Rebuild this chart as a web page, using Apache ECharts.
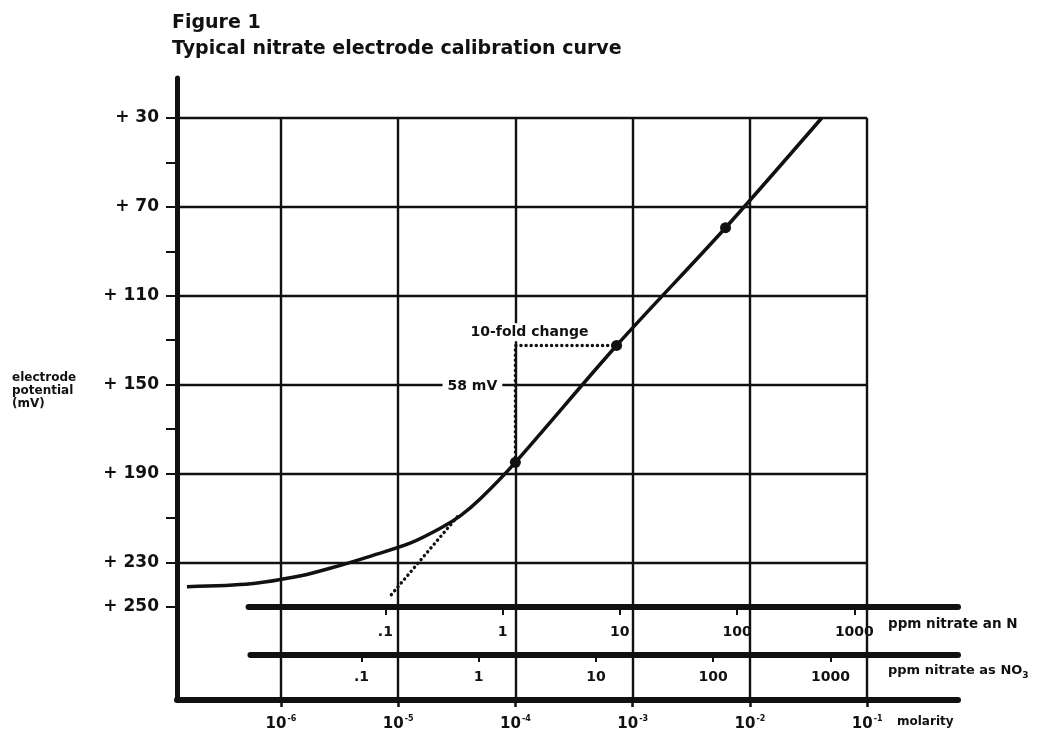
<!DOCTYPE html>
<html><head><meta charset="utf-8">
<script src="https://cdn.jsdelivr.net/npm/echarts@6/dist/echarts.min.js"></script>
<style>html,body{margin:0;padding:0;background:#fff}#chart{width:1055px;height:737px}</style>
</head><body><div id="chart"></div>
<script>
// ---- data ----
const CURVE_MOLARITY = [1.58e-7, 5.55e-7, 1.48e-6, 2.67e-6, 5.84e-6, 1.28e-5, 2.31e-5, 3.41e-5, 5.05e-5, 1e-4, 7.3e-4, 6.2e-3, 4.1e-2];
const CURVE_MV       = [241,     239.7,   236.1,   232.6,   227.2,   221.3,   214.6,   209,     201.3,   185,  132.4,  79.4,   30];
const DOT_MOLARITY = [1e-4, 7.3e-4, 6.2e-3];
const DOT_MV       = [185, 132.4, 79.4];
const STEP_MOLARITY = [1e-4, 1e-4, 7.3e-4];
const STEP_MV       = [185, 132.4, 132.4];
const EXTRAP_MOLARITY = [3.2e-5, 8.3e-6];
const EXTRAP_MV       = [209.5, 246];
const MV_LABELS = [30, 70, 110, 150, 190, 230, 250];
const MV_TICKS  = [30, 50, 70, 90, 110, 130, 150, 170, 190, 210, 230, 250];
const MV_GRID   = [30, 70, 110, 150, 190, 230];
const MOLARITY_TICKS = [1e-6, 1e-5, 1e-4, 1e-3, 1e-2, 1e-1];
const MOLARITY_EXP   = ['-6', '-5', '-4', '-3', '-2', '-1'];
const PPM_N_TICKS  = [0.1, 1, 10, 100, 1000];
const PPM_N_LABELS = ['.1', '1', '10', '100', '1000'];
const PPM_NO3_TICKS  = [0.1, 1, 10, 100, 1000];
const PPM_NO3_LABELS = ['.1', '1', '10', '100', '1000'];
const ANNOT_TEXT     = ['10-fold change', '58 mV'];
const ANNOT_MOLARITY = [1.32e-4, 4.3e-5];
const ANNOT_MV       = [126.5, 150.8];

// ---- scale constants (as drawn in the figure) ----
const MOL_MIN = Math.pow(10, -6.886);
const MOL_MAX = Math.pow(10, -0.225);
const MV_MIN = 12, MV_MAX = 292;
const PPM_N_PER_MOLAR = 12850;
const PPM_NO3_PER_MOLAR = 20560;
const N_LINE = {mv: 250, from: 5.3e-7};
const NO3_LINE = {mv: 271.6, from: 5.5e-7};

const FONT = '"DejaVu Sans", sans-serif';
const INK = '#111';

const zip = (a, b) => a.map((v, i) => [v, b[i]]);

const gridLines = [];
MV_GRID.forEach(v => gridLines.push([{coord: [MOL_MIN, v]}, {coord: [1e-1, v]}]));
MOLARITY_TICKS.forEach(m => gridLines.push([{coord: [m, 30]}, {coord: [m, MV_MAX]}]));

const scaleLines = [
  [{coord: [N_LINE.from, N_LINE.mv]}, {coord: [MOL_MAX, N_LINE.mv]}],
  [{coord: [NO3_LINE.from, NO3_LINE.mv]}, {coord: [MOL_MAX, NO3_LINE.mv]}]
];

function lookup(ticks, labels) {
  return v => {
    const i = ticks.findIndex(t => Math.abs(Math.log10(t) - Math.log10(v)) < 0.01);
    return i >= 0 ? labels[i] : '';
  };
}

const chart = echarts.init(document.getElementById('chart'), null, {renderer: 'canvas'});
chart.setOption({
  animation: false,
  backgroundColor: '#fff',
  title: [
    {text: 'Figure 1', left: 167, top: 9, textStyle: {fontFamily: FONT, fontWeight: 'bold', fontSize: 19, color: INK}},
    {text: 'Typical nitrate electrode calibration curve', left: 167, top: 35, textStyle: {fontFamily: FONT, fontWeight: 'bold', fontSize: 19, color: INK}},
    {text: 'electrode\npotential\n(mV)', left: 7, top: 366, textStyle: {fontFamily: FONT, fontWeight: 'bold', fontSize: 12, lineHeight: 13, color: INK}},
    {text: 'ppm nitrate an N', left: 883, top: 612, textStyle: {fontFamily: FONT, fontWeight: 'bold', fontSize: 13.5, color: INK}},
    {text: 'ppm nitrate as NO{sub|3}', left: 883, top: 657, textStyle: {fontFamily: FONT, fontWeight: 'bold', fontSize: 13, lineHeight: 18, color: INK,
      rich: {sub: {fontFamily: FONT, fontWeight: 'bold', fontSize: 9, verticalAlign: 'bottom', lineHeight: 18, color: INK}}}},
    {text: 'molarity', left: 892, top: 711, textStyle: {fontFamily: FONT, fontWeight: 'bold', fontSize: 12, color: INK}}
  ],
  grid: {left: 177, right: 97, top: 78, bottom: 37, containLabel: false, outerBoundsMode: 'none'},
  xAxis: [
    {
      type: 'log', logBase: 10, min: MOL_MIN, max: MOL_MAX, position: 'bottom',
      axisLine: {show: true, lineStyle: {color: INK, width: 6, cap: 'round'}},
      axisTick: {show: true, customValues: MOLARITY_TICKS, length: 7, lineStyle: {color: INK, width: 2.5}},
      axisLabel: {
        customValues: MOLARITY_TICKS, margin: 15, color: INK,
        formatter: v => '{b|10}{s|' + lookup(MOLARITY_TICKS, MOLARITY_EXP)(v) + '}',
        rich: {
          b: {fontFamily: FONT, fontWeight: 'bold', fontSize: 15, lineHeight: 18, color: INK},
          s: {fontFamily: FONT, fontWeight: 'bold', fontSize: 8, verticalAlign: 'top', lineHeight: 18, color: INK, padding: [0, 0, 0, 1]}
        }
      },
      splitLine: {show: false}, minorTick: {show: false}, minorSplitLine: {show: false}
    },
    {
      type: 'log', logBase: 10, min: MOL_MIN * PPM_N_PER_MOLAR, max: MOL_MAX * PPM_N_PER_MOLAR, position: 'bottom', offset: -92,
      axisLine: {show: false},
      axisTick: {show: true, customValues: PPM_N_TICKS, length: 7, lineStyle: {color: INK, width: 2}},
      axisLabel: {customValues: PPM_N_TICKS, margin: 17, color: INK, fontFamily: FONT, fontWeight: 'bold', fontSize: 14,
        formatter: lookup(PPM_N_TICKS, PPM_N_LABELS)},
      splitLine: {show: false}
    },
    {
      type: 'log', logBase: 10, min: MOL_MIN * PPM_NO3_PER_MOLAR, max: MOL_MAX * PPM_NO3_PER_MOLAR, position: 'bottom', offset: -45,
      axisLine: {show: false},
      axisTick: {show: true, customValues: PPM_NO3_TICKS, length: 7, lineStyle: {color: INK, width: 2}},
      axisLabel: {customValues: PPM_NO3_TICKS, margin: 15, color: INK, fontFamily: FONT, fontWeight: 'bold', fontSize: 14,
        formatter: lookup(PPM_NO3_TICKS, PPM_NO3_LABELS)},
      splitLine: {show: false}
    }
  ],
  yAxis: {
    type: 'value', inverse: true, min: MV_MIN, max: MV_MAX,
    axisLine: {show: true, lineStyle: {color: INK, width: 5}},
    axisTick: {show: true, customValues: MV_TICKS, length: 11, lineStyle: {color: INK, width: 2}},
    axisLabel: {customValues: MV_LABELS, margin: 18, color: INK, fontFamily: FONT, fontWeight: 'bold', fontSize: 17,
      formatter: v => '+ ' + v},
    splitLine: {show: false}
  },
  series: [
    {
      name: 'grid', type: 'line', data: [], z: 1, silent: true,
      markLine: {silent: true, symbol: ['none', 'none'], label: {show: false}, animation: false,
        lineStyle: {color: INK, width: 2.4, type: 'solid'},
        data: gridLines}
    },
    {
      name: 'scales', type: 'line', data: [], z: 1, silent: true,
      markLine: {silent: true, symbol: ['none', 'none'], label: {show: false}, animation: false,
        lineStyle: {color: INK, width: 6, type: 'solid', cap: 'round'},
        data: scaleLines}
    },
    {
      name: 'erase', type: 'line', data: zip(STEP_MOLARITY.slice(0, 2), STEP_MV.slice(0, 2)), z: 2, silent: true,
      symbol: 'none', lineStyle: {color: '#fff', width: 5}
    },
    {
      name: 'step', type: 'line', data: zip(STEP_MOLARITY, STEP_MV), z: 3, silent: true,
      symbol: 'none', lineStyle: {color: INK, width: 3.4, type: [0.1, 5], cap: 'round'}
    },
    {
      name: 'extrapolation', type: 'line', data: zip(EXTRAP_MOLARITY, EXTRAP_MV), z: 3, silent: true,
      symbol: 'none', lineStyle: {color: INK, width: 3.4, type: [0.1, 5], cap: 'round'}
    },
    {
      name: 'calibration', type: 'line', data: zip(CURVE_MOLARITY, CURVE_MV), z: 4, silent: true,
      symbol: 'none', smooth: 0.3, lineStyle: {color: INK, width: 3.5}
    },
    {
      name: 'standards', type: 'scatter', data: zip(DOT_MOLARITY, DOT_MV), z: 5, silent: true,
      symbol: 'circle', symbolSize: 11, itemStyle: {color: INK, opacity: 1}
    },
    {
      name: 'annotations', type: 'scatter', z: 6, silent: true, symbolSize: 0,
      itemStyle: {opacity: 1},
      data: ANNOT_TEXT.map((t, i) => ({name: t, value: [ANNOT_MOLARITY[i], ANNOT_MV[i]]})),
      label: {show: true, position: 'inside', formatter: p => p.name, color: INK, opacity: 1, fontFamily: FONT, fontWeight: 'bold', fontSize: 14,
        backgroundColor: '#fff', padding: [2, 5, 2, 5]}
    }
  ]
});
</script>
</body></html>
